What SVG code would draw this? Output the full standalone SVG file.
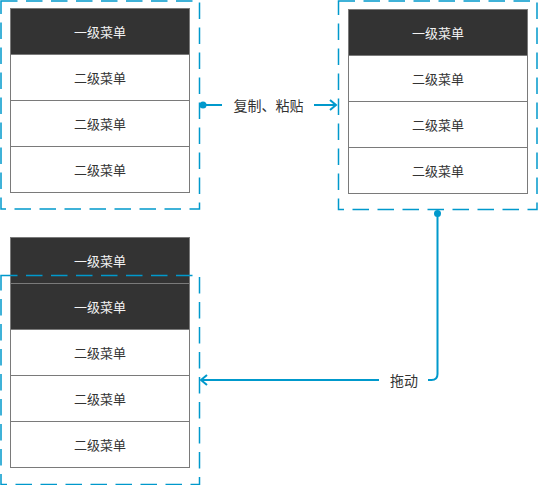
<svg xmlns="http://www.w3.org/2000/svg" width="538" height="485" viewBox="0 0 538 485">
<defs>
<style>
.frame{fill:none;stroke:#0099cc;stroke-width:1.5;stroke-dasharray:16.5 8.5}
.cell{stroke:#7a7a7a;stroke-width:1}
.dark{fill:#333333}
.light{fill:#ffffff}
.t{font-family:"Noto Sans CJK SC","Noto Sans",sans-serif;font-size:13px;text-anchor:middle;dominant-baseline:central}
.tw{fill:#f2f2f2}
.tb{fill:#333333}
.edge{fill:none;stroke:#0099cc;stroke-width:2}
.lbl{font-family:"Noto Sans CJK SC","Noto Sans",sans-serif;font-size:14px;fill:#333333;text-anchor:middle;dominant-baseline:central}
</style>
<marker id="arr" viewBox="0 0 10 12" refX="8" refY="6" markerWidth="10" markerHeight="12" markerUnits="userSpaceOnUse" orient="auto">
<path d="M2,1 L8,6 L2,11" fill="none" stroke="#0099cc" stroke-width="2"/>
</marker>
</defs>
<rect width="538" height="485" fill="#ffffff"/>

<g id="frame1"><rect class="frame" x="1" y="1" width="198.5" height="208"/></g>
<g id="menu1">
<rect class="cell dark" x="10.5" y="8.5" width="179" height="46"/>
<text class="t tw" x="100" y="31.5">一级菜单</text>
<rect class="cell light" x="10.5" y="54.5" width="179" height="46"/>
<text class="t tb" x="100" y="77.5">二级菜单</text>
<rect class="cell light" x="10.5" y="100.5" width="179" height="46"/>
<text class="t tb" x="100" y="123.5">二级菜单</text>
<rect class="cell light" x="10.5" y="146.5" width="179" height="46"/>
<text class="t tb" x="100" y="169.5">二级菜单</text>
</g>

<g id="frame2"><rect class="frame" x="338.5" y="1" width="198.5" height="208.5"/></g>
<g id="menu2">
<rect class="cell dark" x="348.5" y="9.5" width="179" height="46"/>
<text class="t tw" x="438" y="32.5">一级菜单</text>
<rect class="cell light" x="348.5" y="55.5" width="179" height="46"/>
<text class="t tb" x="438" y="78.5">二级菜单</text>
<rect class="cell light" x="348.5" y="101.5" width="179" height="46"/>
<text class="t tb" x="438" y="124.5">二级菜单</text>
<rect class="cell light" x="348.5" y="147.5" width="179" height="46"/>
<text class="t tb" x="438" y="170.5">二级菜单</text>
</g>

<g id="dragged">
<rect class="cell dark" x="10.5" y="237.5" width="179" height="46"/>
<text class="t tw" x="100" y="260.5">一级菜单</text>
</g>
<g id="menu3">
<rect class="cell dark" x="10.5" y="283.5" width="179" height="46"/>
<text class="t tw" x="100" y="306.5">一级菜单</text>
<rect class="cell light" x="10.5" y="329.5" width="179" height="46"/>
<text class="t tb" x="100" y="352.5">二级菜单</text>
<rect class="cell light" x="10.5" y="375.5" width="179" height="46"/>
<text class="t tb" x="100" y="398.5">二级菜单</text>
<rect class="cell light" x="10.5" y="421.5" width="179" height="46"/>
<text class="t tb" x="100" y="444.5">二级菜单</text>
</g>
<g id="frame3"><rect class="frame" x="1" y="275.5" width="198.5" height="209"/></g>

<g id="connectors">
<circle cx="203" cy="105" r="3.5" fill="#0099cc"/>
<path class="edge" d="M203,105 H222"/>
<text class="lbl" x="268.5" y="104.5">复制、粘贴</text>
<path class="edge" d="M314,105 H336" marker-end="url(#arr)"/>
<circle cx="437.5" cy="213.5" r="3.5" fill="#0099cc"/>
<path class="edge" d="M437.5,213.5 V374 Q437.5,380 431.5,380 H428"/>
<text class="lbl" x="404" y="379.5">拖动</text>
<path class="edge" d="M379,380 H201" marker-end="url(#arr)"/>
</g>
</svg>
